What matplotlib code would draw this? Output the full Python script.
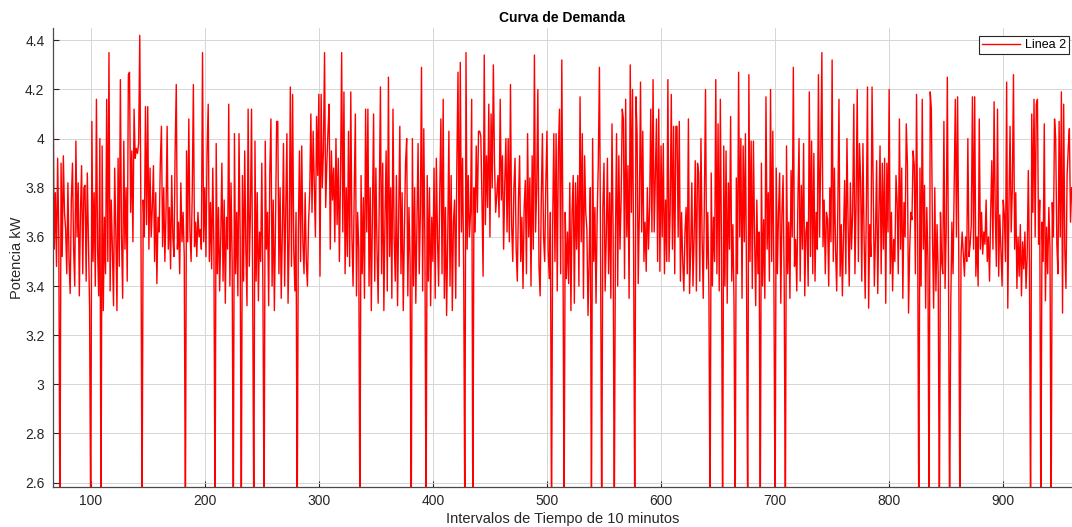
import matplotlib
matplotlib.use("Agg")
import matplotlib.pyplot as plt
import numpy as np

plt.rcParams['font.family'] = ['Liberation Sans', 'DejaVu Sans']

# potencia (kW) por intervalo, empezando en el intervalo 67
start_interval = 67
demand = [
    4.20, 3.55, 3.78, 3.48, 3.92, 3.60, 2.40, 3.90, 3.52, 3.93, 3.70, 3.63, 3.45, 3.82, 3.50, 3.37, 3.75, 3.90, 3.55, 3.40,
    3.99, 3.60, 3.82, 3.36, 3.70, 3.89, 3.45, 3.80, 3.81, 3.42, 3.86, 3.58, 3.31, 2.40, 4.07, 3.50, 3.78, 3.40, 4.16, 3.55,
    3.36, 4.00, 2.40, 3.97, 3.30, 3.68, 3.45, 4.16, 3.50, 4.35, 3.38, 3.75, 3.55, 3.32, 3.88, 3.62, 3.30, 3.92, 3.48, 4.24,
    3.60, 3.35, 3.99, 3.55, 3.80, 3.42, 4.26, 4.27, 3.70, 3.95, 3.58, 4.12, 3.92, 3.96, 3.94, 3.98, 4.42, 3.70, 2.40, 3.75,
    3.60, 4.13, 3.65, 4.13, 3.55, 3.88, 3.60, 3.72, 3.89, 3.50, 3.78, 3.41, 3.68, 3.62, 3.90, 4.05, 3.56, 3.80, 3.50, 3.70,
    4.05, 3.55, 3.72, 3.47, 3.85, 3.60, 3.52, 3.95, 4.22, 3.55, 3.66, 3.45, 3.82, 3.58, 3.70, 3.52, 2.40, 3.95, 3.58, 4.08,
    3.62, 3.50, 3.78, 4.22, 3.56, 3.66, 3.52, 3.70, 3.60, 3.63, 3.55, 4.35, 3.58, 3.80, 3.52, 3.95, 4.14, 3.50, 3.74, 3.47,
    3.88, 3.55, 2.40, 3.98, 3.45, 3.72, 3.38, 3.60, 3.90, 3.42, 3.75, 3.33, 3.68, 3.55, 4.14, 3.40, 3.82, 3.50, 2.40, 4.02,
    3.45, 3.70, 3.36, 4.02, 3.60, 2.40, 3.85, 3.42, 3.95, 3.55, 3.32, 4.12, 3.48, 3.70, 4.12, 3.38, 2.40, 3.99, 3.42, 3.78,
    3.34, 3.62, 3.50, 3.90, 3.36, 2.40, 3.99, 3.55, 3.70, 3.32, 3.86, 4.08, 3.40, 3.75, 3.30, 3.65, 4.07, 4.07, 3.45, 3.80,
    3.35, 3.62, 3.98, 3.40, 3.72, 4.02, 3.33, 3.60, 4.21, 3.48, 4.18, 3.55, 3.38, 3.70, 2.40, 3.62, 3.95, 3.50, 3.97, 3.58,
    3.45, 3.78, 3.50, 3.40, 3.66, 3.78, 4.10, 3.70, 4.03, 3.82, 3.60, 4.09, 3.85, 4.18, 3.44, 4.18, 3.80, 3.95, 4.35, 3.72,
    3.90, 4.03, 4.14, 3.55, 3.95, 3.75, 3.88, 3.58, 4.00, 3.65, 3.92, 3.50, 3.85, 4.35, 3.62, 4.19, 3.45, 3.80, 3.52, 4.03,
    3.48, 4.19, 3.60, 3.40, 3.78, 4.10, 3.36, 3.70, 3.55, 2.40, 3.85, 3.45, 3.76, 3.35, 4.12, 3.62, 4.12, 3.40, 3.80, 3.30,
    3.70, 4.10, 3.42, 3.88, 3.55, 3.33, 3.75, 4.21, 3.45, 3.90, 3.30, 3.68, 3.95, 3.38, 4.25, 3.52, 3.80, 3.35, 4.12, 3.60,
    3.42, 3.85, 3.32, 3.70, 4.05, 3.45, 3.78, 3.30, 3.62, 3.90, 4.00, 3.36, 3.72, 3.50, 2.40, 4.00, 3.40, 3.80, 3.33, 3.65,
    3.98, 3.45, 3.70, 4.29, 3.38, 4.04, 3.55, 2.40, 3.85, 3.42, 3.80, 3.32, 3.68, 3.50, 3.88, 3.35, 3.92, 3.60, 3.40, 3.78,
    4.08, 3.45, 4.16, 3.35, 3.72, 3.28, 3.60, 4.03, 3.40, 3.85, 3.30, 3.66, 3.75, 3.35, 3.90, 4.27, 3.48, 4.31, 3.62, 3.92,
    3.45, 2.40, 4.35, 3.55, 3.85, 3.60, 3.70, 4.16, 2.40, 3.80, 3.62, 3.97, 3.70, 4.03, 4.03, 4.01, 3.75, 3.44, 4.34, 3.65,
    3.93, 3.72, 4.14, 3.60, 4.10, 3.80, 4.30, 3.90, 3.70, 3.77, 3.85, 3.68, 4.16, 3.75, 3.93, 3.55, 3.82, 4.00, 3.62, 4.00,
    3.58, 4.22, 3.65, 3.50, 3.80, 3.92, 3.55, 3.42, 3.75, 3.93, 3.50, 3.68, 3.39, 3.72, 3.83, 3.45, 4.02, 3.60, 3.84, 3.40,
    3.93, 3.55, 4.34, 3.62, 3.80, 4.20, 3.48, 3.36, 3.75, 4.02, 3.60, 3.50, 3.82, 4.03, 3.55, 3.43, 3.70, 2.40, 3.65, 4.02,
    3.50, 4.02, 3.38, 3.95, 4.12, 3.45, 4.32, 3.60, 2.40, 3.70, 3.43, 3.62, 3.41, 3.82, 3.30, 3.70, 3.85, 3.33, 3.82, 3.55,
    3.85, 3.40, 4.17, 3.58, 4.02, 3.35, 3.93, 3.70, 3.63, 3.28, 3.52, 3.80, 2.40, 4.00, 3.50, 3.72, 3.33, 3.68, 3.90, 4.29,
    3.55, 2.40, 3.72, 3.90, 3.38, 3.60, 3.92, 3.45, 3.78, 3.35, 4.06, 3.62, 2.40, 3.58, 4.02, 3.40, 3.93, 3.55, 3.75, 4.12,
    4.08, 3.43, 4.16, 3.60, 3.89, 3.35, 4.30, 3.70, 4.20, 3.50, 2.40, 4.17, 4.02, 3.41, 3.70, 4.23, 3.62, 4.03, 3.50, 3.66,
    3.46, 3.80, 3.55, 3.72, 4.12, 3.62, 4.24, 3.62, 3.85, 4.08, 3.50, 4.12, 3.46, 3.97, 3.60, 3.98, 3.45, 3.75, 3.50, 4.24,
    3.50, 3.70, 4.18, 3.55, 4.05, 3.45, 4.05, 4.05, 3.60, 4.07, 3.42, 3.70, 3.50, 3.38, 3.62, 3.72, 3.45, 4.08, 3.37, 3.55,
    3.82, 3.40, 3.60, 3.91, 3.38, 3.90, 3.86, 3.42, 4.00, 3.60, 3.35, 3.75, 4.20, 3.47, 3.70, 3.36, 2.40, 3.86, 3.40, 3.68,
    3.50, 4.24, 3.45, 4.06, 3.38, 4.16, 3.55, 2.40, 3.97, 3.40, 3.95, 3.33, 3.82, 3.55, 4.09, 3.42, 3.65, 3.32, 2.40, 3.84,
    3.45, 4.27, 3.60, 4.00, 3.35, 3.97, 3.58, 4.02, 3.40, 2.40, 4.26, 3.50, 3.99, 3.39, 3.99, 3.60, 3.32, 3.75, 3.45, 3.62,
    2.40, 3.90, 3.40, 3.67, 3.35, 4.17, 3.55, 3.78, 3.42, 4.20, 3.50, 4.03, 3.38, 2.40, 3.88, 3.45, 3.70, 3.86, 3.33, 3.70,
    3.85, 3.40, 2.40, 3.97, 3.45, 3.66, 3.35, 3.87, 3.60, 4.29, 3.48, 3.59, 3.38, 3.75, 4.00, 3.42, 3.81, 3.55, 3.98, 3.36,
    3.62, 3.66, 3.40, 4.19, 3.52, 3.99, 3.45, 3.94, 3.42, 3.70, 3.55, 4.26, 3.60, 3.92, 4.35, 3.56, 3.75, 3.45, 3.70, 3.67,
    3.40, 3.80, 3.58, 4.32, 3.50, 3.88, 3.55, 3.38, 3.72, 4.16, 3.44, 3.65, 3.36, 3.62, 3.83, 3.45, 4.00, 3.65, 3.40, 3.82,
    3.55, 3.70, 4.14, 3.45, 3.74, 4.20, 3.50, 3.98, 3.83, 3.42, 3.98, 3.60, 3.35, 3.72, 4.21, 3.31, 3.65, 3.52, 4.21, 3.82,
    3.40, 3.60, 3.91, 3.37, 3.70, 3.97, 3.45, 3.90, 3.55, 3.92, 3.33, 3.90, 3.62, 4.20, 3.45, 3.70, 3.38, 3.59, 3.50, 3.85,
    3.74, 3.45, 4.08, 3.55, 3.88, 3.35, 3.74, 3.60, 4.06, 3.90, 3.29, 3.55, 3.70, 3.67, 3.95, 3.89, 3.45, 4.18, 3.62, 2.40,
    3.88, 3.40, 4.16, 3.55, 3.81, 3.31, 3.72, 3.50, 2.40, 4.19, 4.12, 3.60, 3.31, 3.80, 3.38, 3.65, 3.45, 2.40, 3.70, 3.50,
    3.45, 4.07, 3.39, 3.62, 4.25, 3.50, 2.40, 3.32, 3.66, 3.45, 3.81, 4.16, 3.60, 4.17, 3.55, 2.40, 3.52, 3.62, 3.53, 3.44,
    3.60, 3.50, 4.00, 3.52, 3.57, 3.65, 4.17, 3.55, 4.17, 3.44, 3.60, 3.40, 4.08, 3.55, 3.70, 3.53, 3.62, 3.57, 3.75, 3.50,
    3.60, 3.42, 3.70, 3.91, 3.55, 4.15, 3.70, 3.48, 4.12, 3.44, 3.69, 3.55, 3.40, 3.75, 3.69, 3.50, 4.23, 3.31, 3.72, 4.05,
    3.62, 3.80, 4.26, 3.55, 3.78, 3.39, 3.60, 3.44, 3.65, 3.36, 3.58, 3.47, 3.62, 3.39, 3.52, 3.87, 3.48, 2.40, 4.10, 3.70,
    4.16, 3.60, 4.14, 4.16, 3.57, 3.75, 2.40, 3.66, 3.50, 4.06, 3.34, 3.64, 3.45, 3.72, 3.55, 2.40, 3.74, 3.60, 4.08, 4.00,
    3.57, 3.45, 4.07, 3.60, 4.19, 3.29, 4.14, 3.55, 3.39, 3.85, 3.96, 4.04, 3.66, 3.80,
]
intervals = np.arange(start_interval, start_interval + len(demand))

x_ticks = [100, 200, 300, 400, 500, 600, 700, 800, 900]
y_ticks = [2.6, 2.8, 3.0, 3.2, 3.4, 3.6, 3.8, 4.0, 4.2, 4.4]
y_labels = ['2.6', '2.8', '3', '3.2', '3.4', '3.6', '3.8', '4', '4.2', '4.4']

fig = plt.figure(figsize=(10.72, 5.27), dpi=100)
ax = fig.add_axes([0.0492, 0.0753, 0.9508, 0.872])

ax.plot(intervals, demand, color='red', linewidth=1.0, label='Linea 2')

ax.set_xlim(66.7, 960.3)
ax.set_ylim(2.581, 4.451)
ax.set_xticks(x_ticks)
ax.set_yticks(y_ticks)
ax.set_yticklabels(y_labels)

ax.grid(True, color='#d6d6d6', linewidth=0.7)
ax.set_axisbelow(True)
for side in ['top', 'right']:
    ax.spines[side].set_visible(False)
for side in ['left', 'bottom']:
    ax.spines[side].set_color('#4a4a4a')
    ax.spines[side].set_linewidth(0.9)
ax.tick_params(direction='in', length=4, width=0.8, color='#262626',
               labelsize=10, labelcolor='#262626')
ax.tick_params(axis='x', pad=5)
ax.tick_params(axis='y', pad=6)

ax.set_title('Curva de Demanda', fontsize=10, fontweight='bold', color='black', pad=4)
ax.set_xlabel('Intervalos de Tiempo de 10 minutos', fontsize=10.5, color='#262626', labelpad=2.5)
ax.set_ylabel('Potencia kW', fontsize=10.5, color='#262626', labelpad=1)

leg = ax.legend(loc='upper right', bbox_to_anchor=(0.997, 0.982), borderaxespad=0,
                fancybox=False, framealpha=1, edgecolor='#262626', fontsize=9,
                handlelength=3.0, borderpad=0.25, handletextpad=0.4)
leg.get_frame().set_linewidth(0.8)

fig.savefig('out.png', dpi=100)
